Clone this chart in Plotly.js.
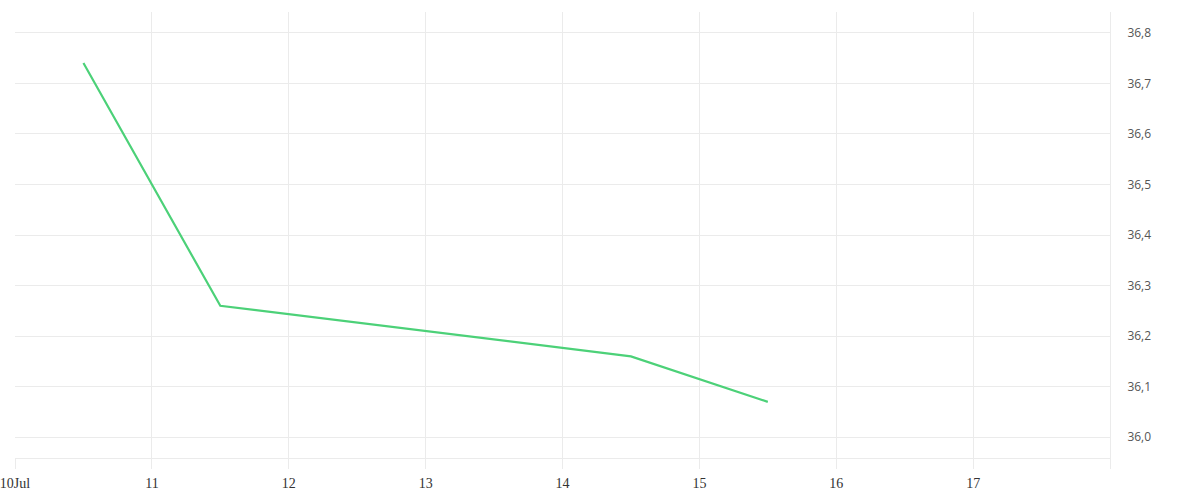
<!DOCTYPE html>
<html>
<head>
<meta charset="utf-8">
<script src="https://cdn.plot.ly/plotly-3.0.1.min.js"></script>
<style>
	html, body { margin: 0; padding: 0; background: #fff; }
	#chart { width: 1200px; height: 500px; }
</style>
</head>
<body>
<div id="chart"></div>
<script>
// readings (noon of each day)
var dates  = ['2023-07-10 12:00', '2023-07-11 12:00', '2023-07-14 12:00', '2023-07-15 12:00'];
var values = [36.74, 36.26, 36.16, 36.07];

// x axis ticks
var tick_dates  = ['2023-07-10', '2023-07-11', '2023-07-12', '2023-07-13', '2023-07-14', '2023-07-15', '2023-07-16', '2023-07-17', '2023-07-18'];
var tick_labels = ['10Jul', '11', '12', '13', '14', '15', '16', '17', ''];

var trace = {
	x: dates,
	y: values,
	type: 'scatter',
	mode: 'lines',
	hoverinfo: 'none',
	line: { color: 'rgb(76,209,120)', width: 2.2 }
};

var layout = {
	width: 1200,
	height: 500,
	margin: { l: 15, r: 90, t: 12, b: 42 },
	paper_bgcolor: '#fff',
	plot_bgcolor: '#fff',
	showlegend: false,
	separators: ',.',
	xaxis: {
		type: 'date',
		range: ['2023-07-10', '2023-07-18'],
		tickmode: 'array',
		tickvals: tick_dates,
		ticktext: tick_labels,
		ticks: 'outside',
		ticklen: 10,
		tickcolor: '#ebebeb',
		ticklabelstandoff: 2,
		ticklabeloverflow: 'allow',
		showgrid: true,
		gridcolor: '#ebebeb',
		showline: true,
		linecolor: '#ebebeb',
		zeroline: false,
		tickfont: { family: '"Liberation Serif", "DejaVu Serif", serif', size: 14, color: '#333' }
	},
	yaxis: {
		side: 'right',
		range: [35.959, 36.841],
		dtick: 0.1,
		tickformat: '.1f',
		showgrid: true,
		gridcolor: '#ebebeb',
		showline: true,
		linecolor: '#ebebeb',
		zeroline: false,
		ticks: '',
		ticklabelstandoff: 14,
		tickfont: { family: 'Open Sans', size: 12, color: '#555' }
	}
};

Plotly.newPlot('chart', [trace], layout, { displayModeBar: false, staticPlot: true });
</script>
</body>
</html>
